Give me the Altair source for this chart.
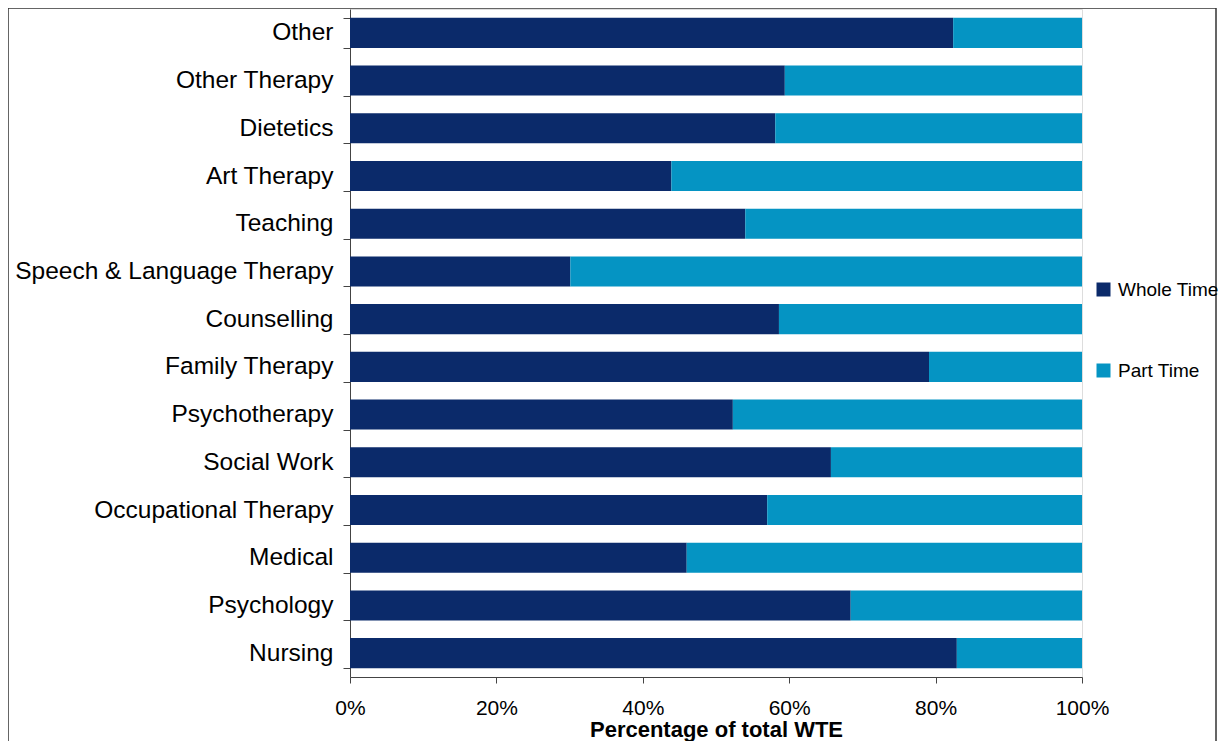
import altair as alt
import pandas as pd

categories = ["Other", "Other Therapy", "Dietetics", "Art Therapy", "Teaching",
              "Speech & Language Therapy", "Counselling", "Family Therapy",
              "Psychotherapy", "Social Work", "Occupational Therapy", "Medical",
              "Psychology", "Nursing"]
whole_time = [82.4, 59.4, 58.1, 43.9, 54.0, 30.1, 58.6, 79.1, 52.3, 65.7, 57.0, 46.0, 68.4, 82.9]
part_time = [17.6, 40.6, 41.9, 56.1, 46.0, 69.9, 41.4, 20.9, 47.7, 34.3, 43.0, 54.0, 31.6, 17.1]
series = ["Whole Time", "Part Time"]
colors = ["#0B2A6A", "#0594C3"]

rows = []
for c, w, p in zip(categories, whole_time, part_time):
    rows.append({"category": c, "type": "Whole Time", "value": w, "order": 0})
    rows.append({"category": c, "type": "Part Time", "value": p, "order": 1})
df = pd.DataFrame(rows)

FONT = "Liberation Sans"

bars = alt.Chart(df).mark_bar().encode(
    y=alt.Y("category:N", sort=categories,
            scale=alt.Scale(paddingInner=0.37, paddingOuter=0.185),
            axis=alt.Axis(title=None, labelFontSize=24.5, labelPadding=10, tickSize=7,
                          tickBand="extent", labelColor="#000", tickColor="#444",
                          domainColor="#444", labelFont=FONT, labelLimit=0)),
    x=alt.X("value:Q", stack="zero",
            scale=alt.Scale(domain=[0, 100], nice=False),
            axis=alt.Axis(title="Percentage of total WTE", values=[0, 20, 40, 60, 80, 100],
                          labelExpr="datum.value + '%'", labelFontSize=21, labelColor="#000",
                          tickSize=6, tickColor="#444", domainColor="#444", grid=False,
                          labelPadding=14, titleFontSize=22, titleFontWeight="bold",
                          titleColor="#000", titlePadding=1, labelFont=FONT, titleFont=FONT,
                          labelFlush=False)),
    color=alt.Color("type:N", scale=alt.Scale(domain=series, range=colors),
                    legend=alt.Legend(title=None, orient="none", legendX=744, legendY=271,
                                      symbolType="square", symbolSize=196, symbolStrokeWidth=0,
                                      labelFontSize=19, labelOffset=5, rowPadding=61,
                                      labelColor="#000", labelFont=FONT, labelLimit=0)),
    order=alt.Order("order:Q"),
)

frame = alt.Chart(pd.DataFrame({"a": [0]})).mark_rect(
    fill=None, stroke="#333", strokeWidth=1.5, clip=False
).encode(x=alt.value(-342), x2=alt.value(866), y=alt.value(-1), y2=alt.value(800))

chart = alt.layer(bars, frame).properties(
    width=732, height=668,
    autosize=alt.AutoSizeParams(type="none"),
    padding={"left": 342, "top": 1, "right": 140, "bottom": 64},
).configure_view(stroke=None).configure(font=FONT)

chart.save("out.html", embed_options={"renderer": "svg", "actions": False})
